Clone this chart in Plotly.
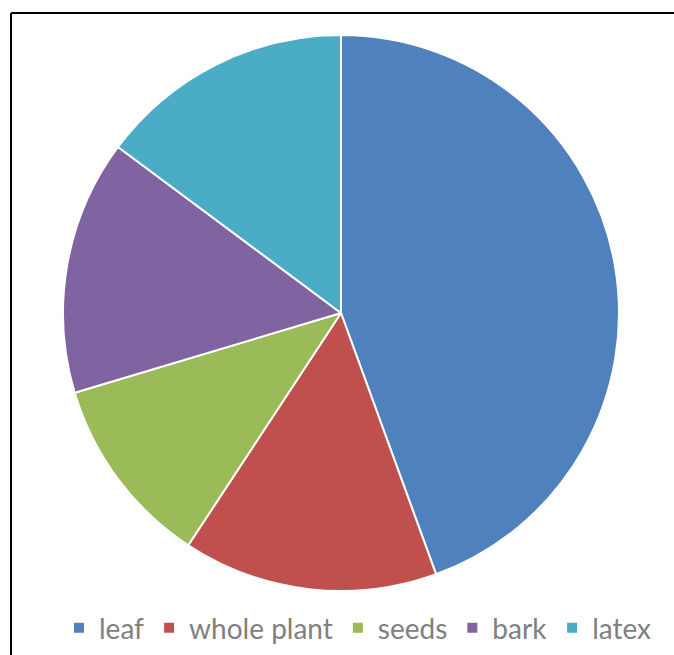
import plotly.graph_objects as go

labels = ["leaf", "whole plant", "seeds", "bark", "latex"]
values = [12, 4, 3, 4, 4]
colors = ["#4F81BD", "#C0504D", "#9BBB59", "#8064A2", "#4BACC6"]

W, H = 674, 655
cx, cy, r = 341, 313, 278

fig = go.Figure(go.Pie(
    labels=labels, values=values, sort=False, direction="clockwise", rotation=0,
    marker=dict(colors=colors, line=dict(color="white", width=2)),
    textinfo="none", hoverinfo="label+value",
    domain=dict(x=[(cx - r) / W, (cx + r) / W], y=[(H - (cy + r)) / H, (H - (cy - r)) / H]),
))

fig.update_layout(
    width=W, height=H, margin=dict(l=0, r=0, t=0, b=0),
    paper_bgcolor="white", plot_bgcolor="white",
    showlegend=True,
    legend=dict(orientation="h", xanchor="center", x=358 / W, yanchor="middle", y=(H - 628) / H,
                font=dict(family="Lato, sans-serif", size=28, color="#808080"),
                itemwidth=30, traceorder="normal"),
    shapes=[
        dict(type="line", xref="paper", yref="paper", x0=11 / W, x1=1.0, y0=(H - 13) / H, y1=(H - 13) / H,
             line=dict(color="black", width=2)),
        dict(type="line", xref="paper", yref="paper", x0=11 / W, x1=11 / W, y0=0, y1=(H - 13) / H,
             line=dict(color="black", width=2)),
    ],
)

fig.write_html("out.html")
